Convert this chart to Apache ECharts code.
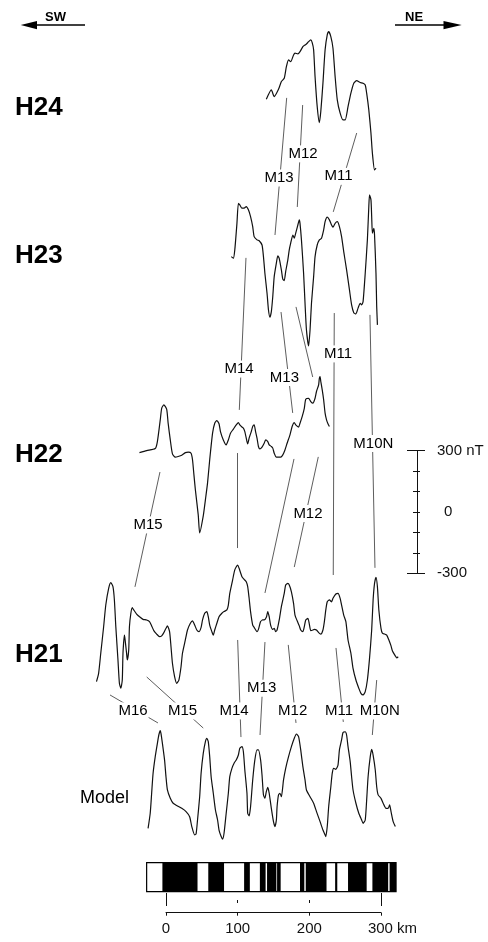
<!DOCTYPE html>
<html>
<head>
<meta charset="utf-8">
<script src="https://cdn.jsdelivr.net/npm/echarts@6/dist/echarts.min.js"></script>
<style>
html,body{margin:0;padding:0;background:#fff}
#chart{width:488px;height:942px}
</style>
</head>
<body>
<div id="chart"></div>
<script>
// distance along track (km) and anomaly (nT) of each profile
var h24Km = [140,147,151,157,161,165,168,171,174,178,180,184,187,191,194,196,199,202,204,206,208,211,214,216,219,222,225,227,230,233,236,239,243,247,250,254,258,262,266,271,275,278,280,283,286,288,291,293];
var h24Nt = [3,49,16,52,90,106,163,196,187,220,229,225,236,261,269,274,285,294,280,245,114,-33,-111,-57,82,245,318,334,310,253,114,0,-65,-98,-98,-33,33,82,94,85,82,73,33,-49,-163,-261,-343,-334];

var h23Km = [91,94,96,99,101,103,106,109,112,115,118,121,123,127,130,134,136,138,141,143,145,147,149,151,154,156,158,161,163,165,167,170,172,174,177,179,181,184,186,187,189,192,194,196,199,201,203,206,208,211,214,217,220,222,225,228,231,233,236,239,242,245,248,252,256,259,262,265,268,271,273,275,278,281,283,284,286,287,288,290,291,293,294,295];
var h23Nt = [16,8,49,179,277,269,253,253,261,245,212,163,114,98,94,73,16,-65,-163,-245,-280,-253,-179,-82,-16,20,8,-49,-94,-101,-57,0,49,82,122,106,131,171,196,179,98,-65,-212,-343,-421,-343,-212,-82,16,73,98,106,147,187,209,196,171,160,179,187,163,114,41,-49,-147,-220,-258,-264,-236,-212,-220,-204,-65,98,261,318,294,212,131,155,122,-65,-228,-318];

var h22Km = [-37,-27,-15,-12,-8,-6,-3,1,3,6,9,13,17,22,27,31,35,37,39,41,45,47,52,55,58,61,65,68,71,74,76,80,84,87,90,94,97,101,103,106,108,110,113,114,116,119,121,123,125,127,129,131,134,137,139,142,144,147,149,151,154,157,160,163,166,169,173,176,179,181,185,187,190,193,195,199,202,205,208,210,213,214,215,216,218,220,222,224,226,228];
var h22Nt = [11,21,31,65,171,228,245,223,155,73,5,-11,-8,-2,11,13,8,-24,-98,-171,-294,-382,-299,-220,-137,-24,106,155,168,152,114,73,49,73,106,126,142,158,147,136,131,114,65,54,82,114,139,147,114,82,41,29,38,57,73,65,49,41,33,8,-11,-11,-11,0,24,57,98,139,158,147,136,155,187,228,272,277,261,253,277,310,343,375,383,359,318,269,204,171,152,139];

var h21Km = [-97,-94,-91,-87,-84,-80,-77,-74,-72,-70,-67,-65,-63,-61,-60,-58,-57,-55,-54,-52,-51,-49,-47,-45,-41,-36,-32,-27,-23,-20,-17,-13,-9,-6,-3,0,2,5,7,9,12,15,18,21,23,27,30,34,37,40,43,46,49,51,54,57,59,61,64,66,68,71,74,78,81,85,87,89,93,96,100,102,106,109,112,114,116,118,121,123,127,129,132,135,137,140,142,144,146,149,151,153,155,158,161,165,167,170,172,175,178,180,183,186,188,191,193,195,198,200,202,205,207,210,213,216,219,221,223,225,228,231,233,237,240,243,245,248,251,254,258,261,265,269,272,275,278,281,284,287,289,291,293,295,297,300,302,305,308,311,314,316,320,322,324];
var h21Nt = [-204,-163,-65,65,171,253,281,261,196,65,-98,-212,-236,-196,-65,24,0,-65,-98,-49,65,131,158,147,127,111,101,98,90,69,46,29,16,20,36,57,69,41,-33,-114,-179,-212,-196,-131,-65,0,49,82,94,73,49,41,62,98,131,139,114,73,41,24,49,82,114,131,139,147,171,228,294,343,367,351,310,297,285,261,204,139,73,62,41,52,90,98,98,111,139,114,73,52,57,41,49,98,163,228,269,277,269,236,179,122,94,69,49,41,65,98,106,78,46,49,52,49,36,29,49,90,147,187,196,187,204,225,228,204,171,122,90,0,-65,-139,-196,-236,-261,-269,-253,-196,-90,49,196,277,307,261,147,57,33,29,24,0,-29,-54,-78,-88,-82];

var modelKm = [-25,-22,-20,-18,-15,-12,-10,-8,-7,-5,-2,0,2,6,10,16,22,28,33,36,40,42,44,47,49,52,55,57,59,61,63,66,69,72,74,77,79,81,84,87,89,92,95,98,101,103,106,108,110,113,114,116,118,121,124,127,129,132,134,136,138,140,142,144,147,150,152,154,155,157,159,161,164,167,171,175,179,182,185,188,191,194,196,201,206,210,215,219,222,223,225,227,230,232,234,237,240,242,245,247,250,252,254,257,259,261,265,269,273,275,278,280,282,285,287,289,292,294,296,300,303,307,310,312,314,317,320];
var modelNt = [-188,-114,-16,82,163,228,269,290,277,228,147,65,0,-41,-65,-78,-90,-106,-131,-179,-220,-215,-147,-33,82,179,237,253,237,163,65,-16,-98,-147,-196,-228,-241,-212,-114,-16,65,106,131,147,171,204,212,187,98,-16,-114,-127,-82,49,147,196,196,147,73,-24,-41,-8,13,-16,-90,-155,-179,-147,-82,-24,-16,-33,49,106,163,212,253,274,261,196,114,49,0,-33,-65,-106,-155,-196,-220,-228,-179,-82,16,82,106,101,122,196,245,281,285,269,212,139,65,0,-65,-114,-147,-163,-147,-49,65,163,199,171,98,16,-24,-41,-65,-90,-90,-73,-106,-155,-179];

// correlation lines between profiles: [km, stacked nT]
var corrLines = [
  [[168.4,3387],[152.1,2716]],
  [[190.7,3352],[183.2,2853]],
  [[266.1,3215],[233.4,2829]],
  [[111.6,2604],[102.3,1860]],
  [[160.5,2339],[176.8,1845]],
  [[181.4,2364],[204.7,2021]],
  [[234.8,2334],[233.4,1052]],
  [[284.6,2325],[291.6,1087]],
  [[-8.4,1556],[-43.3,994]],
  [[100.0,1649],[100.0,1184]],
  [[178.6,1620],[138.1,964]],
  [[212.5,1630],[179.0,1091]],
  [[-78.1,465],[-11.2,328]],
  [[-26.9,553],[52.0,303]],
  [[100.0,734],[104.6,259]],
  [[138.1,724],[131.2,269]],
  [[170.6,710],[181.4,328]],
  [[237.2,695],[247.4,333]],
  [[294.0,538],[287.9,269]]
];

// anomaly names and where they sit
var anomalyNames = ['M13','M12','M11','M14','M13','M11','M10N','M15','M12','M13','M16','M15','M14','M12','M11','M10N'];
var anomalyKm = [157.7,191.2,240.7,101.9,165.3,240.0,289.3,-25.1,198.1,133.5,-46.0,23.0,94.9,176.8,241.4,298.2];
var anomalyNt = [2995,3113,3003,2060,2019,2134,1696,1297,1353,498,387,387,387,387,387,387];

// normal polarity blocks (km)
var normalBlocks = [[-5,44],[59,81],[109,117],[131,139],[141,154],[155,160],[187,193],[195,224],[236,239],[254,280],[288,310],[312,321]];
var blockRange = [[-27,321]];

var scaleKmTicks = [0,100,200,300];

// vertical stacking of the profiles (nT)
var offsets = {H24: 3377, H23: 2594, H22: 1640, H21: 734, Model: 0};

var FONT = '"Liberation Sans", Arial, Helvetica, sans-serif';
var INK = '#111';

function profile(km, nt, off) {
  var out = [];
  for (var i = 0; i < km.length; i++) {
    out.push([km[i], nt[i] + off]);
  }
  return out;
}

function profileSeries(km, nt, off) {
  return {
    type: 'line',
    xAxisIndex: 0, yAxisIndex: 0,
    data: profile(km, nt, off),
    showSymbol: false,
    smooth: 0.2,
    lineStyle: {color: INK, width: 1.2},
    z: 3,
    silent: true
  };
}

var labelData = [];
for (var i = 0; i < anomalyNames.length; i++) {
  labelData.push({name: anomalyNames[i], value: [anomalyKm[i], anomalyNt[i]]});
}

// small helper for the extra tick-only axes
function tickAxis(type, grid, min, max, opts) {
  var a = {
    type: 'value', gridIndex: grid, min: min, max: max,
    axisLine: {show: false, onZero: false},
    axisLabel: {show: false}, splitLine: {show: false},
    axisTick: {show: true, lineStyle: {color: INK}}
  };
  for (var k in opts) a.axisTick[k] = opts[k];
  if (opts.interval) a.interval = opts.interval;
  if (type === 'y') a.position = 'right';
  return a;
}

var chart = echarts.init(document.getElementById('chart'), null, {renderer: 'canvas'});

var option = {
  animation: false,
  backgroundColor: '#fff',
  grid: [
    {left: 0, right: 0, top: 0, bottom: 0},                 // profiles
    {left: 400, width: 17, top: 450.7, height: 122.6},      // nT bar
    {left: 166, width: 215, top: 900, height: 12.7},        // km bar
    {left: 0, right: 0, top: 862.7, height: 29}             // polarity
  ],
  xAxis: [
    {type: 'value', gridIndex: 0, min: -231.6, max: 449.3, show: false},
    {type: 'value', gridIndex: 1, min: 0, max: 1, show: false},
    {type: 'value', gridIndex: 2, min: 0, max: 300, interval: 100,
      axisLine: {onZero: false, lineStyle: {color: INK, width: 1}},
      axisTick: {length: 3, lineStyle: {color: INK}},
      splitLine: {show: false},
      axisLabel: {
        margin: 9, color: INK, fontSize: 15, fontFamily: FONT,
        customValues: scaleKmTicks,
        formatter: function (v) { return v === 300 ? '{k|300 km}' : String(v); },
        rich: {k: {fontSize: 15, fontFamily: FONT, color: INK, padding: [0, 0, 0, 23]}}
      }
    },
    tickAxis('x', 2, 0, 300, {inside: true, length: 3, interval: 100}),
    tickAxis('x', 2, 0, 300, {length: 7, customValues: [0, 300]}),
    tickAxis('x', 2, 0, 300, {inside: true, length: 6, customValues: [0, 300]}),
    {type: 'value', gridIndex: 3, min: -231.6, max: 449.3, show: false}
  ],
  yAxis: [
    {type: 'value', gridIndex: 0, min: -744, max: 3866, show: false},
    {type: 'value', gridIndex: 1, position: 'right', min: -300, max: 300, interval: 100,
      axisLine: {show: true, onZero: false, lineStyle: {color: INK, width: 1}},
      axisTick: {show: true, length: 3, lineStyle: {color: INK}},
      splitLine: {show: false},
      axisLabel: {
        margin: 20, color: INK, fontSize: 15, fontFamily: FONT, align: 'left',
        customValues: [-300, 0, 300],
        formatter: function (v) {
          if (v === 300) return '300 nT';
          if (v === 0) return '{z|0}';
          return String(v);
        },
        rich: {z: {fontSize: 15, fontFamily: FONT, color: INK, padding: [0, 0, 0, 7]}}
      }
    },
    tickAxis('y', 1, -300, 300, {inside: true, length: 4, interval: 100}),
    tickAxis('y', 1, -300, 300, {length: 8, customValues: [-300, 300]}),
    tickAxis('y', 1, -300, 300, {inside: true, length: 10, customValues: [-300, 300]}),
    {type: 'value', gridIndex: 2, min: 0, max: 1, show: false},
    {type: 'value', gridIndex: 3, min: 0, max: 1, show: false}
  ],
  graphic: [
    {type: 'line', shape: {x1: 36, y1: 25, x2: 85, y2: 25}, style: {stroke: '#000', lineWidth: 1.3}},
    {type: 'polygon', shape: {points: [[20.7, 25], [37, 21], [37, 29.3]]}, style: {fill: '#000'}},
    {type: 'text', x: 45, y: 17.5, style: {text: 'SW', font: 'bold 13px ' + FONT, fill: '#000', align: 'left', verticalAlign: 'middle'}},
    {type: 'line', shape: {x1: 395, y1: 25, x2: 445, y2: 25}, style: {stroke: '#000', lineWidth: 1.3}},
    {type: 'polygon', shape: {points: [[461.7, 25], [443.5, 21], [443.5, 29.3]]}, style: {fill: '#000'}},
    {type: 'text', x: 405, y: 17.5, style: {text: 'NE', font: 'bold 13px ' + FONT, fill: '#000', align: 'left', verticalAlign: 'middle'}},
    {type: 'text', x: 15, y: 107.5, style: {text: 'H24', font: 'bold 26px ' + FONT, fill: '#000', align: 'left', verticalAlign: 'middle'}},
    {type: 'text', x: 15, y: 256, style: {text: 'H23', font: 'bold 26px ' + FONT, fill: '#000', align: 'left', verticalAlign: 'middle'}},
    {type: 'text', x: 15, y: 455, style: {text: 'H22', font: 'bold 26px ' + FONT, fill: '#000', align: 'left', verticalAlign: 'middle'}},
    {type: 'text', x: 15, y: 655, style: {text: 'H21', font: 'bold 26px ' + FONT, fill: '#000', align: 'left', verticalAlign: 'middle'}},
    {type: 'text', x: 80, y: 798, style: {text: 'Model', font: '18px ' + FONT, fill: '#000', align: 'left', verticalAlign: 'middle'}}
  ],
  series: [
    profileSeries(h24Km, h24Nt, offsets.H24),
    profileSeries(h23Km, h23Nt, offsets.H23),
    profileSeries(h22Km, h22Nt, offsets.H22),
    profileSeries(h21Km, h21Nt, offsets.H21),
    profileSeries(modelKm, modelNt, offsets.Model),
    {
      type: 'lines',
      coordinateSystem: 'cartesian2d',
      xAxisIndex: 0, yAxisIndex: 0,
      data: corrLines.map(function (c) { return {coords: c}; }),
      lineStyle: {color: '#333', width: 0.8, opacity: 1},
      silent: true,
      z: 2
    },
    {
      type: 'scatter',
      xAxisIndex: 0, yAxisIndex: 0,
      data: labelData,
      symbolSize: 0,
      itemStyle: {opacity: 1},
      silent: true,
      z: 10,
      label: {
        show: true, position: 'inside', formatter: '{b}', opacity: 1,
        color: '#000', fontSize: 15, fontFamily: FONT,
        backgroundColor: '#fff', padding: [1, 1]
      }
    },
    {
      type: 'custom',
      xAxisIndex: 6, yAxisIndex: 6,
      data: normalBlocks,
      encode: {x: [0, 1]},
      silent: true,
      renderItem: function (params, api) {
        var a = api.coord([api.value(0), 1]);
        var b = api.coord([api.value(1), 0]);
        return {type: 'rect', shape: {x: a[0], y: a[1], width: b[0] - a[0], height: b[1] - a[1]}, style: {fill: '#000'}};
      }
    },
    {
      type: 'custom',
      xAxisIndex: 6, yAxisIndex: 6,
      data: blockRange,
      encode: {x: [0, 1]},
      silent: true,
      z: 3,
      renderItem: function (params, api) {
        var a = api.coord([api.value(0), 1]);
        var b = api.coord([api.value(1), 0]);
        return {type: 'rect', shape: {x: a[0], y: a[1], width: b[0] - a[0], height: b[1] - a[1]}, style: {fill: 'none', stroke: '#000', lineWidth: 1.2}};
      }
    },
    {type: 'line', xAxisIndex: 1, yAxisIndex: 1, data: []},
    {type: 'line', xAxisIndex: 2, yAxisIndex: 5, data: []}
  ]
};

chart.setOption(option);
</script>
</body>
</html>
